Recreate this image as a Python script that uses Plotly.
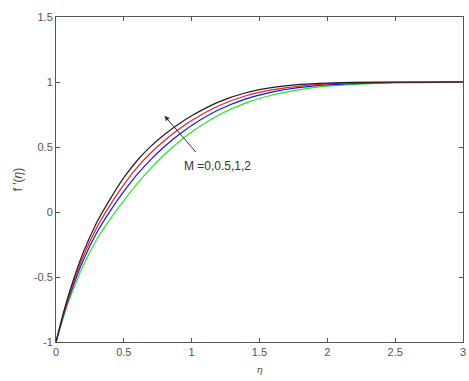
import plotly.graph_objects as go

eta = [0, 0.05, 0.1, 0.2, 0.3, 0.4, 0.5, 0.6, 0.7, 0.8, 0.9, 1.0, 1.2, 1.4, 1.6, 1.8, 2.0, 2.2, 2.5, 3.0]

f_M0 = [-1, -0.793, -0.613, -0.314, -0.081, 0.101, 0.264, 0.398, 0.507, 0.596, 0.673, 0.740, 0.847, 0.917, 0.958, 0.981, 0.992, 0.997, 0.9995, 1.0]
f_M05 = [-1, -0.803, -0.630, -0.344, -0.120, 0.055, 0.211, 0.345, 0.456, 0.550, 0.632, 0.703, 0.817, 0.894, 0.941, 0.969, 0.985, 0.9925, 0.9975, 1.0]
f_M1 = [-1, -0.812, -0.647, -0.374, -0.160, 0.009, 0.158, 0.291, 0.405, 0.504, 0.590, 0.666, 0.786, 0.870, 0.924, 0.958, 0.978, 0.988, 0.996, 1.0]
f_M2 = [-1, -0.825, -0.670, -0.414, -0.212, -0.053, 0.088, 0.220, 0.337, 0.442, 0.535, 0.616, 0.746, 0.839, 0.902, 0.942, 0.968, 0.982, 0.9935, 0.999]

series = [("M=2", f_M2, "rgb(40,230,40)"),
          ("M=1", f_M1, "rgb(20,20,240)"),
          ("M=0.5", f_M05, "rgb(240,30,30)"),
          ("M=0", f_M0, "rgb(30,30,30)")]

fig = go.Figure()
for name, y, c in series:
    fig.add_trace(go.Scatter(x=eta, y=y, mode="lines", name=name,
                             line=dict(color=c, width=1.2, shape="spline", smoothing=0.6)))

axis_common = dict(showline=True, linecolor="#555", linewidth=1, mirror="ticks",
                   ticks="inside", ticklen=4, tickcolor="#555", showgrid=False,
                   zeroline=False, ticklabeloverflow="allow",
                   tickfont=dict(family="Liberation Sans, Arial", size=11, color="#555"))

fig.update_layout(
    width=469, height=381,
    margin=dict(l=56, r=3, t=17, b=39),
    plot_bgcolor="white", paper_bgcolor="white",
    showlegend=False,
    xaxis=dict(range=[0, 3], tickvals=[0, 0.5, 1, 1.5, 2, 2.5, 3],
               ticktext=["0", "0.5", "1", "1.5", "2", "2.5", "3"],
               title=dict(text="<i>η</i>", font=dict(family="DejaVu Serif", size=10, color="#555"), standoff=8),
               **axis_common),
    yaxis=dict(range=[-1, 1.5], tickvals=[-1, -0.5, 0, 0.5, 1, 1.5],
               ticktext=["-1", "-0.5", "0", "0.5", "1", "1.5"],
               title=dict(text="f ′(<i>η</i>)", font=dict(family="Liberation Sans, Arial", size=12, color="#444"), standoff=8),
               **axis_common),
)

fig.add_annotation(x=0.80, y=0.74, ax=1.04, ay=0.45, xref="x", yref="y", axref="x", ayref="y",
                   text="", showarrow=True, arrowhead=2, arrowsize=1, arrowwidth=1, arrowcolor="#333")
fig.add_annotation(x=1.19, y=0.355, xref="x", yref="y", text="M =0,0.5,1,2", showarrow=False,
                   font=dict(family="Liberation Sans, Arial", size=12, color="#333"))

fig.write_html("out.html")
